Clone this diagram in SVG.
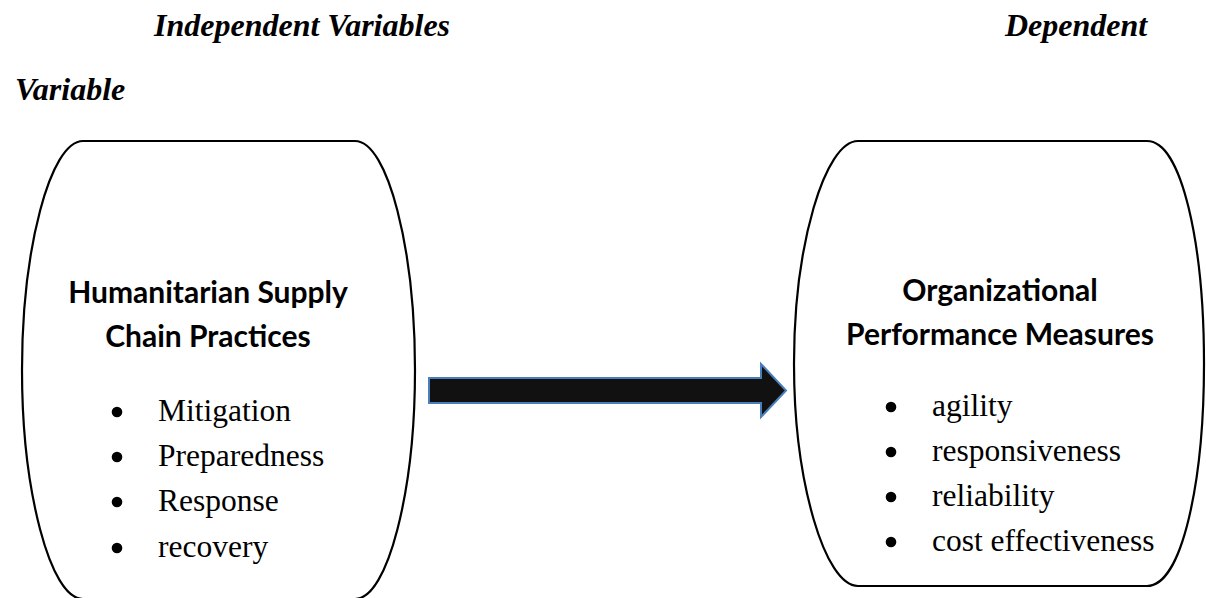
<svg xmlns="http://www.w3.org/2000/svg" width="1206" height="598" viewBox="0 0 1206 598">
  <style>
    .bg { fill: #ffffff; }
    .frame { fill: #ffffff; stroke: #000000; stroke-width: 2.2; }
    .title { font-family: "Liberation Serif", "Times New Roman", serif; font-size: 32px; font-weight: bold; font-style: italic; fill: #000000; }
    .head { font-family: Lato, "Liberation Sans", sans-serif; font-size: 30px; font-weight: bold; fill: #000000; text-anchor: middle; }
    .item { font-family: "Liberation Serif", "Times New Roman", serif; font-size: 31.5px; fill: #000000; }
    .dot { fill: #000000; }
    .arrow { fill: #111111; stroke: #4a7ebb; stroke-width: 2; stroke-linejoin: miter; }
  </style>

  <rect class="bg" x="0" y="0" width="1206" height="598"/>

  <!-- column captions -->
  <g id="captions">
    <text class="title" x="154" y="36">Independent Variables</text>
    <text class="title" x="1005" y="36">Dependent</text>
    <text class="title" x="15" y="100">Variable</text>
  </g>

  <!-- independent variables block -->
  <g id="node-independent">
    <path class="frame" d="M 83 141 L 355 141 C 388 141 415 250 415 370 C 415 490 388 599 355 599 L 83 599 C 50 599 22 490 22 370 C 22 250 50 141 83 141 Z"/>
    <text class="head" x="208" y="303">Humanitarian Supply</text>
    <text class="head" x="208" y="347">Chain Practices</text>
    <circle class="dot" cx="117" cy="412" r="5.3"/>
    <circle class="dot" cx="117" cy="457" r="5.3"/>
    <circle class="dot" cx="117" cy="502" r="5.3"/>
    <circle class="dot" cx="117" cy="548" r="5.3"/>
    <text class="item" x="158" y="421">Mitigation</text>
    <text class="item" x="158" y="466">Preparedness</text>
    <text class="item" x="158" y="511">Response</text>
    <text class="item" x="158" y="557">recovery</text>
  </g>

  <!-- dependent variable block -->
  <g id="node-dependent">
    <path class="frame" d="M 858 141 L 1147 141 C 1182 141 1204 245 1204 363.5 C 1204 482 1182 586 1147 586 L 858 586 C 825 586 794 482 794 363.5 C 794 245 825 141 858 141 Z"/>
    <text class="head" x="1000" y="301">Organizational</text>
    <text class="head" x="1000" y="345">Performance Measures</text>
    <circle class="dot" cx="891" cy="407" r="5.3"/>
    <circle class="dot" cx="891" cy="452" r="5.3"/>
    <circle class="dot" cx="891" cy="497" r="5.3"/>
    <circle class="dot" cx="891" cy="542" r="5.3"/>
    <text class="item" x="932" y="416">agility</text>
    <text class="item" x="932" y="461">responsiveness</text>
    <text class="item" x="932" y="506">reliability</text>
    <text class="item" x="932" y="551">cost effectiveness</text>
  </g>

  <!-- connector -->
  <g id="connectors">
    <polygon class="arrow" points="429,378 761,378 761,364 786,390.5 761,417 761,403 429,403"/>
  </g>
</svg>
